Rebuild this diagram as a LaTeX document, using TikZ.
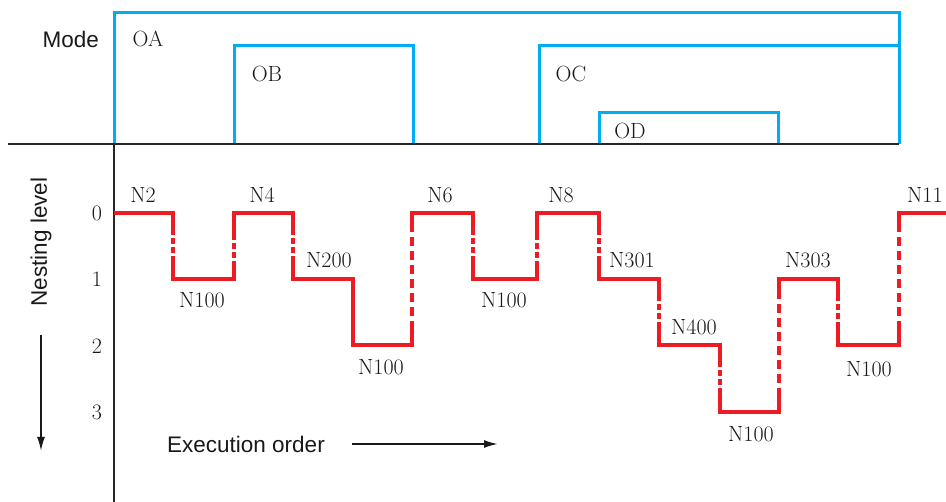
\documentclass[tikz,border=0pt]{standalone}
\usepackage{fontspec}
\newfontfamily\sansf{Liberation Sans}
\usetikzlibrary{arrows.meta}
\definecolor{modeblue}{RGB}{0,174,239}
\definecolor{stepred}{RGB}{237,28,36}
\begin{document}
\begin{tikzpicture}[x=1pt,y=-1pt,
 modeline/.style={draw=modeblue,line width=3pt,line join=miter},
 redsolid/.style={draw=stepred,line width=4.3pt,line join=miter},
 reddashA/.style={draw=stepred,line width=4.3pt,dash pattern=on 6pt off 3pt,dash phase=6pt},
 reddashB/.style={draw=stepred,line width=4.3pt,dash pattern=on 9pt off 5pt,dash phase=9pt},
 axisline/.style={draw=black!85,line width=1.3pt},
 lab/.style={font=\fontsize{22}{26}\selectfont,inner sep=0pt,anchor=base,text=black!90},
 slab/.style={font=\sansf\fontsize{22.5}{27}\selectfont,inner sep=0pt,text=black!90},
 darrow/.style={draw=black!90,line width=1.8pt,-{Latex[length=14pt,width=8pt]}}
]
\useasboundingbox (0,0) rectangle (946,502);
% axes
\draw[axisline] (114,144) -- (114,502);
% mode lines
\draw[modeline] (114,144) -- (114,13) -- (899,13) -- (899,144);
\draw[modeline] (234,144) -- (234,46) -- (413,46) -- (413,144);
\draw[modeline] (539,144) -- (539,46) -- (899,46);
\draw[modeline] (599,144) -- (599,113) -- (778,113) -- (778,144);
\draw[axisline] (8,144) -- (899,144);
% step line
\draw[redsolid] (114,213) -- (173,213) -- (173,235);
\draw[reddashA] (173,235) -- (173,261);
\draw[redsolid] (173,261) -- (173,279) -- (234,279) -- (234,261);
\draw[reddashA] (234,261) -- (234,235);
\draw[redsolid] (234,235) -- (234,213) -- (293,213) -- (293,235);
\draw[reddashA] (293,235) -- (293,261);
\draw[redsolid] (293,261) -- (293,279) -- (353,279) -- (353,345) -- (412,345) -- (412,321);
\draw[reddashB] (412,321) -- (412,227);
\draw[redsolid] (412,227) -- (412,213) -- (473,213) -- (473,235);
\draw[reddashA] (473,235) -- (473,261);
\draw[redsolid] (473,261) -- (473,279) -- (537,279) -- (537,261);
\draw[reddashA] (537,261) -- (537,235);
\draw[redsolid] (537,235) -- (537,213) -- (599,213) -- (599,235);
\draw[reddashA] (599,235) -- (599,261);
\draw[redsolid] (599,261) -- (599,279) -- (659,279) -- (659,301);
\draw[reddashA] (659,301) -- (659,327);
\draw[redsolid] (659,327) -- (659,345) -- (720,345) -- (720,367);
\draw[reddashA] (720,367) -- (720,394);
\draw[redsolid] (720,394) -- (720,412) -- (779,412) -- (779,388);
\draw[reddashB] (779,388) -- (779,293);
\draw[redsolid] (779,293) -- (779,279) -- (838,279) -- (838,301);
\draw[reddashA] (838,301) -- (838,327);
\draw[redsolid] (838,327) -- (838,345) -- (899,345) -- (899,321);
\draw[reddashB] (899,321) -- (899,227);
\draw[redsolid] (899,227) -- (899,213) -- (946,213);
% sans labels
\node[slab,anchor=base west] (mode) at (42.5,48) {Mode};
\node[slab,anchor=base west] (exec) at (167,453) {Execution order};
\node[slab,rotate=90] (nest) at (41,242) {Nesting level};
\coordinate (na1) at (41,335);
\coordinate (na2) at (41,451);
\draw[darrow] (na1) -- (na2);
\coordinate (ea1) at (352,444);
\coordinate (ea2) at (498,444);
\draw[darrow] (ea1) -- (ea2);
% mode labels
\node[lab] (oa) at (148,47) {OA};
\node[lab] (ob) at (267,82) {OB};
\node[lab] (oc) at (571,82) {OC};
\node[lab] (od) at (630,139) {OD};
% level numbers
\node[lab] (l0) at (97,221) {0};
\node[lab] (l1) at (97,287) {1};
\node[lab] (l2) at (97,354) {2};
\node[lab] (l3) at (97,420) {3};
% step labels
\node[lab] (n2) at (143,203) {N2};
\node[lab] (n4) at (262,203) {N4};
\node[lab] (n100a) at (202,308) {N100};
\node[lab] (n200) at (329,268) {N200};
\node[lab] (n100b) at (381,375) {N100};
\node[lab] (n6) at (440,203) {N6};
\node[lab] (n8) at (561,203) {N8};
\node[lab] (n100c) at (504,308) {N100};
\node[lab] (n301) at (632,268) {N301};
\node[lab] (n400) at (694,335) {N400};
\node[lab] (n100d) at (751,442) {N100};
\node[lab] (n303) at (808,268) {N303};
\node[lab] (n100e) at (869,377) {N100};
\node[lab,anchor=base west] (n11) at (907,203) {N11};
\end{tikzpicture}
\end{document}
